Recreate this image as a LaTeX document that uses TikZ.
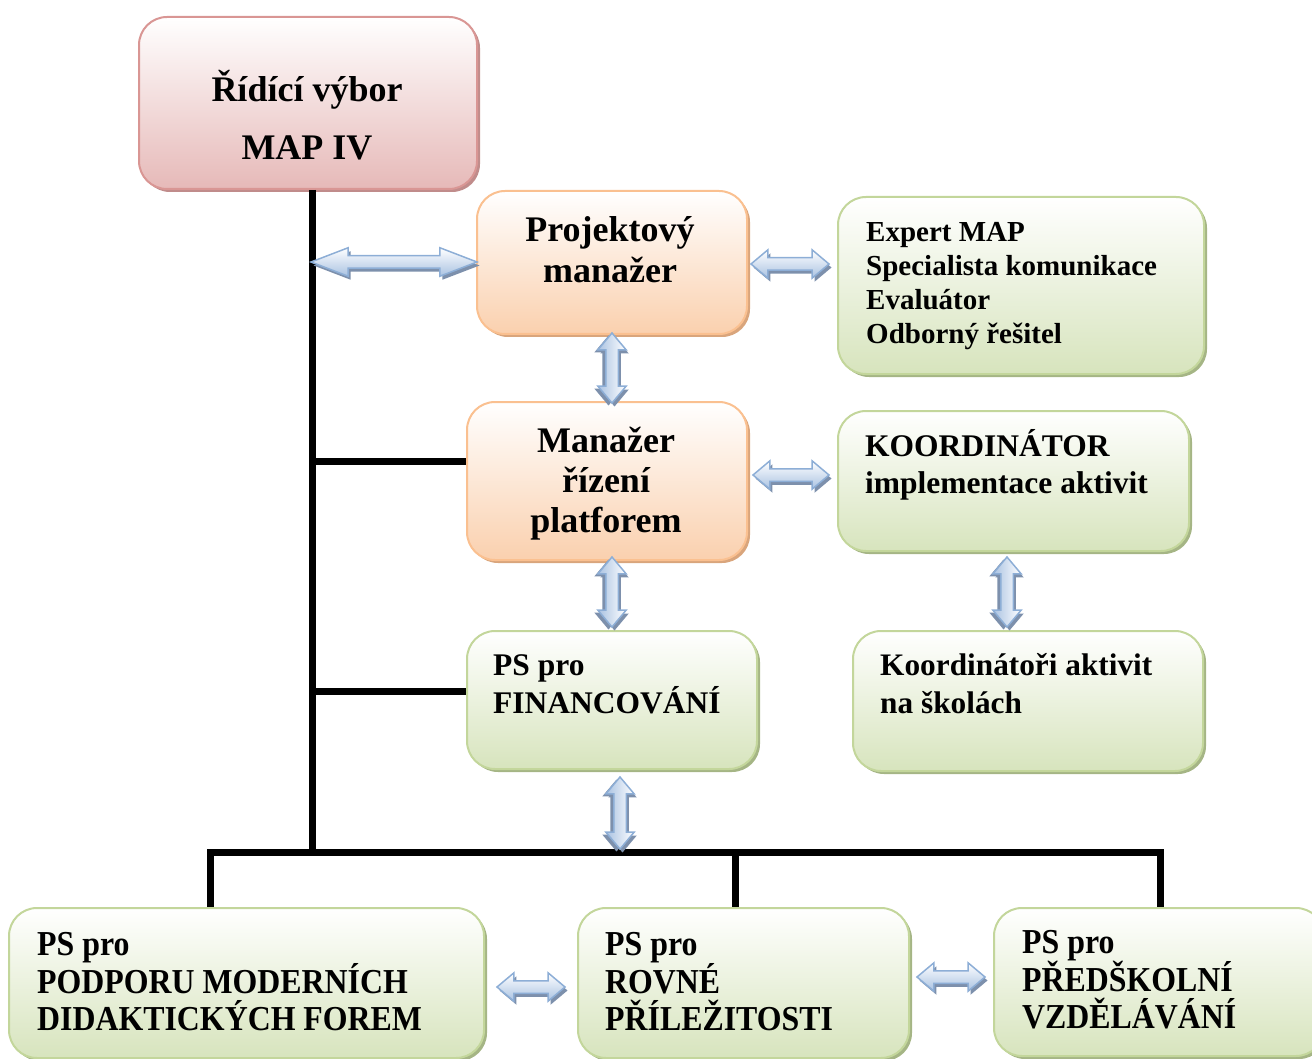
\documentclass[tikz,border=0pt]{standalone}
\usepackage{fontspec}
\setmainfont{Liberation Serif}
\newfontfamily\condfont[FakeStretch=0.91]{Liberation Serif}
\usetikzlibrary{shapes.arrows,shadows}
\definecolor{redline}{HTML}{D99694}
\definecolor{redfill}{HTML}{E6B9B8}
\definecolor{redshadow}{HTML}{C08C8B}
\definecolor{orline}{HTML}{FAC090}
\definecolor{orfill}{HTML}{FAD0AE}
\definecolor{orshadow}{HTML}{D9A57C}
\definecolor{grline}{HTML}{C3D69B}
\definecolor{grfill}{HTML}{D7E4BD}
\definecolor{grshadow}{HTML}{A5B585}
\definecolor{arline}{HTML}{8DAED6}
\definecolor{arfill}{HTML}{A9C2E2}
\definecolor{arshadow}{HTML}{7D90AC}
\newcommand\clines[1]{\vtop{\halign{\hfil##\hfil\cr#1\crcr}}}
\newcommand\llines[1]{\vtop{\halign{##\hfil\cr#1\crcr}}}
\tikzset{
  box/.style 2 args={rectangle, rounded corners=28pt, line width=2pt, anchor=north west,
    minimum width=#1, minimum height=#2, inner sep=0pt},
  redbox/.style={draw=redline, top color=white, bottom color=redfill,
    drop shadow={shadow xshift=3pt, shadow yshift=-3pt, fill=redshadow, opacity=1}},
  orbox/.style={draw=orline, top color=white, bottom color=orfill,
    drop shadow={shadow xshift=3pt, shadow yshift=-3pt, fill=orshadow, opacity=1}},
  grbox/.style={draw=grline, top color=white, bottom color=grfill,
    drop shadow={shadow xshift=3pt, shadow yshift=-3pt, fill=grshadow, opacity=1}},
  fs/.style 2 args={inner sep=0pt, font=\bfseries\fontsize{#1}{#2}\selectfont},
  tree/.style={line width=7pt, black},
  barrow/.style={double arrow, draw=arline, line width=1.5pt, top color=white, bottom color=arfill,
    inner sep=0pt, inner ysep=5.5pt, double arrow head extend=8pt, double arrow tip angle=80,
    minimum height=#1,
    drop shadow={shadow xshift=2.5pt, shadow yshift=-3.5pt, fill=arshadow, opacity=1}},
  vbarrow/.style={barrow=#1, rotate=90, left color=arfill, right color=white,
    drop shadow={shadow xshift=-3.5pt, shadow yshift=-2.5pt, fill=arshadow, opacity=1}},
}
\begin{document}
\begin{tikzpicture}[x=1pt,y=-1pt]
\useasboundingbox (0,0) rectangle (1312,1059);
% coordinates of the tree
\coordinate (trunkbot) at (312,852);
\coordinate (busL) at (210,852);
\coordinate (busM) at (735,852);
\coordinate (busR) at (1160,852);
\coordinate (br1) at (312,461);
\coordinate (br2) at (312,691);

% boxes
\node[box={338pt}{172pt}, redbox] (root) at (138,16) {};
\node[box={270pt}{143pt}, orbox] (pm) at (476,190) {};
\node[box={366pt}{177pt}, grbox] (exp) at (837,196) {};
\node[box={280pt}{158pt}, orbox] (mgr) at (466,401) {};
\node[box={351pt}{140pt}, grbox] (koord) at (837,410) {};
\node[box={350pt}{140pt}, grbox] (koords) at (852,630) {};
\node[box={290pt}{138pt}, grbox] (fin) at (466,630) {};
\node[box={475pt}{150pt}, grbox] (ps1) at (8,907) {};
\node[box={331pt}{150pt}, grbox] (ps2) at (577,907) {};
\node[box={330pt}{148pt}, grbox] (ps3) at (993,907) {};

% black tree lines
\draw[tree] (trunkbot |- root.south) -- (trunkbot);
\draw[tree] (br1) -- (br1 -| mgr.west);
\draw[tree] (br2) -- (br2 -| fin.west);
\draw[tree, line cap=rect] (busL) -- (busR);
\draw[tree] (busL) -- (busL |- ps1.north);
\draw[tree] (busM) -- (busM |- ps2.north);
\draw[tree] (busR) -- (busR |- ps3.north);

% texts
\node[fs={36}{58}, anchor=base] (t-root) at (307,102) {\clines{Řídící výbor\cr MAP IV}};
\node[fs={36}{41}, anchor=base] (t-pm) at (610,242) {\clines{Projektový\cr manažer}};
\node[fs={36}{40}, anchor=base] (t-mgr) at (606,452) {\clines{Manažer\cr řízení\cr platforem}};
\node[fs={29}{33.7}, anchor=base west] (t-exp) at (866,242) {\llines{Expert MAP\cr Specialista komunikace\cr Evaluátor\cr Odborný řešitel}};
\node[fs={31.5}{37}, anchor=base west] (t-koord) at (865,456) {\llines{KOORDINÁTOR\cr implementace aktivit}};
\node[fs={31.3}{38}, anchor=base west] (t-koords) at (880,675) {\llines{Koordinátoři aktivit\cr na školách}};
\node[fs={31.5}{38}, anchor=base west] (t-fin) at (493,675) {\llines{PS pro\cr FINANCOVÁNÍ}};
\node[fs={35}{37}, anchor=base west] (t-ps1) at (37,955) {\condfont\llines{PS pro\cr PODPORU MODERNÍCH\cr DIDAKTICKÝCH FOREM}};
\node[fs={35}{37}, anchor=base west] (t-ps2) at (605,955) {\condfont\llines{PS pro\cr ROVNÉ\cr PŘÍLEŽITOSTI}};
\node[fs={35}{37}, anchor=base west] (t-ps3) at (1022,953) {\condfont\llines{PS pro\cr PŘEDŠKOLNÍ\cr VZDĚLÁVÁNÍ}};

% block arrows
\node[barrow=166pt, double arrow tip angle=42] (a1) at (394,262) {};
\node[barrow=78pt] (a2) at (790,264) {};
\node[vbarrow=70pt] (a3) at (612,368) {};
\node[barrow=76pt] (a4) at (791,475) {};
\node[vbarrow=70pt] (a5) at (612,592) {};
\node[vbarrow=70pt] (a6) at (1007,592) {};
\node[vbarrow=72pt] (a7) at (620,813) {};
\node[barrow=68pt] (a8) at (531,987) {};
\node[barrow=68pt] (a9) at (951,977) {};
\end{tikzpicture}
\end{document}
